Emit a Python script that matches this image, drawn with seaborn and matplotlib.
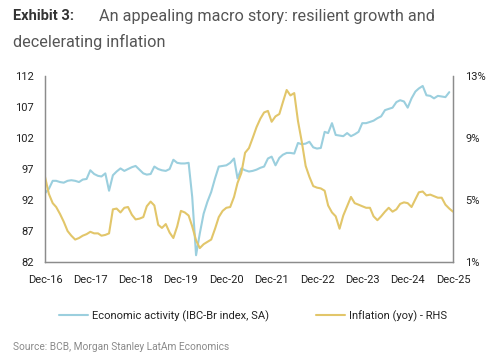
import numpy as np
import pandas as pd
import matplotlib
matplotlib.use("Agg")
import matplotlib.pyplot as plt
import seaborn as sns

# ==========================================================
# DATA (monthly)
# ==========================================================

ACTIVITY_START = "2016-12-01"
activity = [
    93.1, 93.8, 95.1, 95.1, 94.9, 94.8, 95.1, 95.2, 95.1, 94.9, 95.3, 95.4,
    96.8, 96.2, 95.9, 95.8, 96.3, 93.5, 96.0, 96.6, 97.1, 96.7, 97.0, 97.3,
    97.5, 96.9, 96.3, 96.1, 96.2, 97.4, 97.0, 96.8, 96.7, 97.0, 98.5, 98.0,
    97.9, 97.9, 98.0, 92.5, 83.1, 86.6, 89.8, 91.7, 93.3, 95.5, 97.4, 97.5,
    97.6, 98.0, 98.7, 95.5, 97.1, 96.8, 96.6, 96.7, 96.9, 97.2, 97.4, 98.7,
    99.0, 97.6, 98.8, 99.3, 99.6, 99.6, 99.5, 101.2, 101.0, 101.1, 101.4, 100.5,
    100.3, 100.4, 103.0, 102.8, 104.4, 102.5, 102.4, 102.3, 102.8, 102.3, 102.6, 103.0,
    104.4, 104.4, 104.6, 104.8, 105.2, 105.5, 106.5, 106.7, 106.9, 107.8, 108.1, 107.9,
    106.9, 108.4, 109.5, 110.0, 110.4, 108.9, 108.8, 108.4, 108.8, 108.7, 108.6, 109.4,
]

inflation = [
    6.5, 5.4, 4.8, 4.55, 4.1, 3.6, 3.0, 2.7, 2.45, 2.55, 2.7, 2.8,
    2.95, 2.85, 2.85, 2.7, 2.75, 2.85, 4.4, 4.45, 4.2, 4.5, 4.55, 4.05,
    3.75, 3.8, 3.9, 4.6, 4.9, 4.65, 3.4, 3.2, 3.45, 2.9, 2.55, 3.3,
    4.3, 4.2, 4.0, 3.3, 2.4, 1.9, 2.15, 2.3, 2.45, 3.15, 3.9, 4.3,
    4.5, 4.55, 5.2, 6.1, 6.75, 8.05, 8.35, 9.0, 9.7, 10.25, 10.65, 10.75,
    10.05, 10.4, 10.55, 11.3, 12.1, 11.75, 11.9, 10.1, 8.75, 7.2, 6.5, 5.9,
    5.8, 5.75, 5.6, 4.65, 4.2, 3.95, 3.15, 4.0, 4.6, 5.2, 4.8, 4.7,
    4.6, 4.5, 4.5, 3.95, 3.7, 3.95, 4.25, 4.5, 4.25, 4.4, 4.75, 4.85,
    4.8, 4.55, 5.05, 5.5, 5.55, 5.3, 5.35, 5.25, 5.15, 5.15, 4.7, 4.45,
    4.25,
]

left_ticks = [82, 87, 92, 97, 102, 107, 112]
right_ticks = [1, 5, 9, 13]
x_tick_years = list(range(2016, 2026))

BLUE = "#9bcfde"
YELLOW = "#e2c66a"
TEXT = "#222222"
GRID = "#8c8c8c"

# ==========================================================
# FRAMES
# ==========================================================

act_df = pd.DataFrame({
    "date": pd.date_range(ACTIVITY_START, periods=len(activity), freq="MS"),
    "value": activity,
})
inf_df = pd.DataFrame({
    "date": pd.date_range(ACTIVITY_START, periods=len(inflation), freq="MS"),
    "value": inflation,
})

# ==========================================================
# PLOT
# ==========================================================

sns.set_style("white")
plt.rcParams["font.family"] = ["Roboto", "DejaVu Sans"]

fig = plt.figure(figsize=(5.0, 3.57), dpi=100)
ax = fig.add_axes([0.09, 0.266, 0.816, 0.521])
ax2 = ax.twinx()

sns.lineplot(data=act_df, x="date", y="value", ax=ax, color=BLUE,
             linewidth=1.5, label="Economic activity (IBC-Br index, SA)", legend=False)
sns.lineplot(data=inf_df, x="date", y="value", ax=ax2, color=YELLOW,
             linewidth=1.5, label="Inflation (yoy) - RHS", legend=False)

ax.set_ylim(82, 112)
ax.set_yticks(left_ticks)
ax.set_yticklabels([str(t) for t in left_ticks])
ax2.set_ylim(1, 13)
ax2.set_yticks(right_ticks)
ax2.set_yticklabels([f"{t}%" for t in right_ticks])

ax.set_xlim(pd.Timestamp("2016-12-01"), pd.Timestamp("2025-12-01"))
xt = [pd.Timestamp(f"{y}-12-01") for y in x_tick_years]
ax.set_xticks(xt)
ax.set_xticklabels([f"Dec-{str(y)[2:]}" for y in x_tick_years])

for a in (ax, ax2):
    a.set_xlabel("")
    a.set_ylabel("")
    a.spines["top"].set_visible(False)
    for s in ("left", "right", "bottom"):
        a.spines[s].set_color(GRID)
        a.spines[s].set_linewidth(0.9)
    a.tick_params(axis="both", length=0, labelsize=8, colors=TEXT)
    a.grid(False)
ax.tick_params(axis="y", pad=8)
ax2.tick_params(axis="y", pad=9)
ax.tick_params(axis="x", pad=9)

# legend
h1, l1 = ax.get_legend_handles_labels()
h2, l2 = ax2.get_legend_handles_labels()
fig.legend(h1 + h2, l1 + l2, loc="center", bbox_to_anchor=(0.506, 0.115),
           ncol=2, frameon=False, fontsize=8, handlelength=2.6,
           handletextpad=0.3, columnspacing=4.3, labelcolor=TEXT)

# titles
fig.text(0.026, 0.955, "Exhibit 3:", fontsize=10.5, fontweight="bold",
         color="#333333", va="center")
fig.text(0.198, 0.955, "An appealing macro story: resilient growth and",
         fontsize=11.7, color="#555555", va="center")
fig.text(0.026, 0.882, "decelerating inflation", fontsize=11.7,
         color="#555555", va="center")
fig.text(0.026, 0.028, "Source: BCB, Morgan Stanley LatAm Economics",
         fontsize=7.3, color="#8a8a8a", va="center")

fig.savefig("out.png", dpi=100)
plt.close(fig)
